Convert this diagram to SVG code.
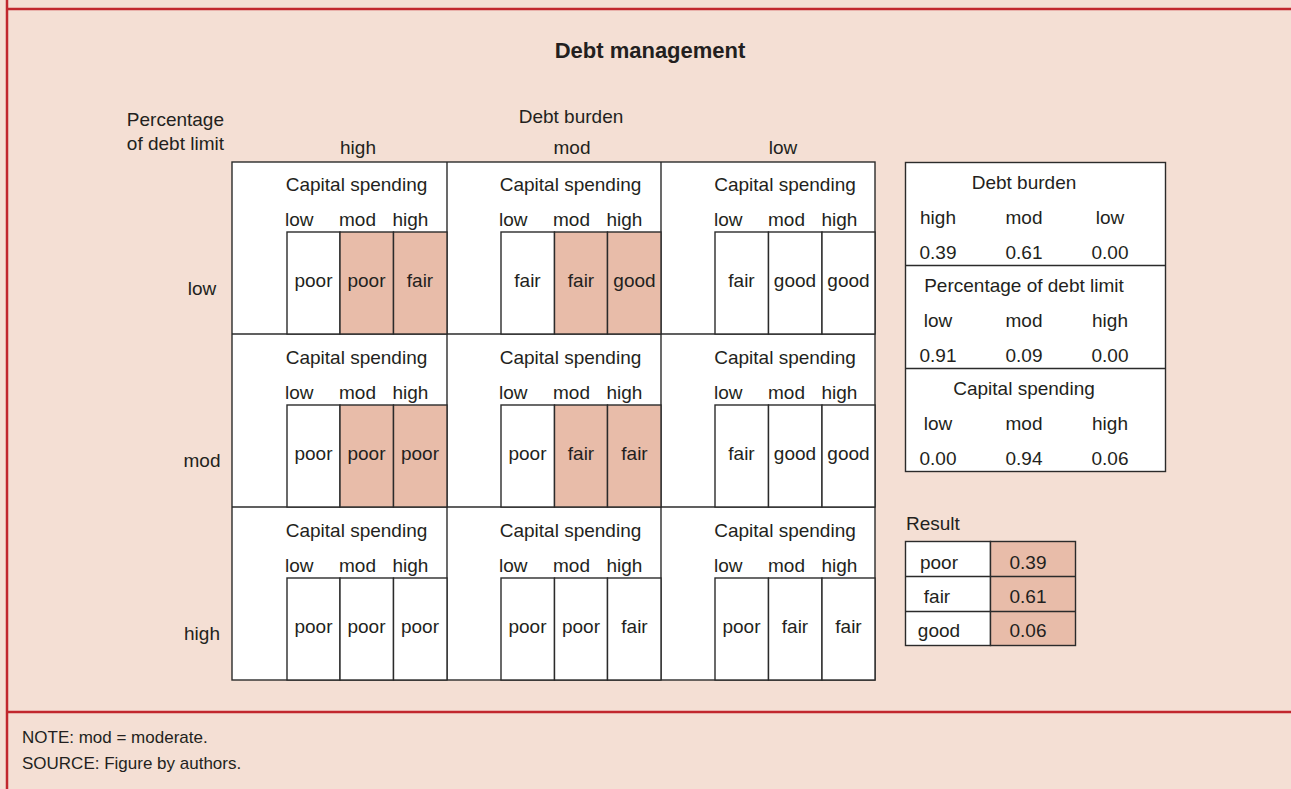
<svg xmlns="http://www.w3.org/2000/svg" width="1291" height="789" viewBox="0 0 1291 789">
<style>
text{font-family:"Liberation Sans",Arial,sans-serif;font-size:19px;fill:#231f20}
.t{font-size:22px;font-weight:bold}
.f{font-size:17px}
.m{text-anchor:middle}
.e{text-anchor:end}
.ln{stroke:#2b2b2b;stroke-width:1.4;fill:none}
.w{fill:#ffffff;stroke:#2b2b2b;stroke-width:1.4}
.s{fill:#e8bca9;stroke:#2b2b2b;stroke-width:1.4}
.red{stroke:#c1272d;stroke-width:2.5;fill:none}
</style>
<rect x="0" y="0" width="1291" height="789" fill="#f4dfd4"/>
<g id="frame">
<line class="red" x1="7" y1="9" x2="1291" y2="9"/>
<line class="red" x1="7" y1="712" x2="1291" y2="712"/>
<line class="red" x1="7" y1="0" x2="7" y2="789"/>
</g>
<g id="title"><text class="t m" x="650" y="58">Debt management</text></g>
<g id="axis-labels">
<text class="e" x="224" y="126">Percentage</text>
<text class="e" x="224" y="150">of debt limit</text>
<text class="m" x="571" y="123">Debt burden</text>
<text class="m" x="358" y="154">high</text>
<text class="m" x="572" y="154">mod</text>
<text class="m" x="783" y="154">low</text>
<text class="m" x="202" y="295">low</text>
<text class="m" x="202" y="467">mod</text>
<text class="m" x="202" y="640">high</text>
</g>
<g id="grid">
<rect class="w" x="232" y="162" width="643" height="518"/>
<line class="ln" x1="447" y1="162" x2="447" y2="680"/>
<line class="ln" x1="661" y1="162" x2="661" y2="680"/>
<line class="ln" x1="232" y1="334" x2="875" y2="334"/>
<line class="ln" x1="232" y1="507" x2="875" y2="507"/>
</g>
<!-- Row 1 -->
<g id="cell-r1-c1">
<text class="m" x="356.5" y="191">Capital spending</text>
<text x="285" y="226">low</text><text x="339" y="226">mod</text><text x="392.5" y="226">high</text>
<rect class="w" x="287" y="232" width="53" height="102"/><rect class="s" x="340" y="232" width="53.5" height="102"/><rect class="s" x="393.5" y="232" width="53.5" height="102"/>
<text class="m" x="313.5" y="287">poor</text><text class="m" x="366.5" y="287">poor</text><text class="m" x="420" y="287">fair</text>
</g>
<g id="cell-r1-c2">
<text class="m" x="570.5" y="191">Capital spending</text>
<text x="499" y="226">low</text><text x="553" y="226">mod</text><text x="606.5" y="226">high</text>
<rect class="w" x="501" y="232" width="53.5" height="102"/><rect class="s" x="554.5" y="232" width="53" height="102"/><rect class="s" x="607.5" y="232" width="53.5" height="102"/>
<text class="m" x="527.5" y="287">fair</text><text class="m" x="581" y="287">fair</text><text class="m" x="634.5" y="287">good</text>
</g>
<g id="cell-r1-c3">
<text class="m" x="785" y="191">Capital spending</text>
<text x="714" y="226">low</text><text x="768" y="226">mod</text><text x="821.5" y="226">high</text>
<rect class="w" x="715" y="232" width="53.5" height="102"/><rect class="w" x="768.5" y="232" width="53.5" height="102"/><rect class="w" x="822" y="232" width="53" height="102"/>
<text class="m" x="741.5" y="287">fair</text><text class="m" x="795" y="287">good</text><text class="m" x="848.5" y="287">good</text>
</g>
<!-- Row 2 -->
<g id="cell-r2-c1">
<text class="m" x="356.5" y="364">Capital spending</text>
<text x="285" y="399">low</text><text x="339" y="399">mod</text><text x="392.5" y="399">high</text>
<rect class="w" x="287" y="405" width="53" height="102"/><rect class="s" x="340" y="405" width="53.5" height="102"/><rect class="s" x="393.5" y="405" width="53.5" height="102"/>
<text class="m" x="313.5" y="460">poor</text><text class="m" x="366.5" y="460">poor</text><text class="m" x="420" y="460">poor</text>
</g>
<g id="cell-r2-c2">
<text class="m" x="570.5" y="364">Capital spending</text>
<text x="499" y="399">low</text><text x="553" y="399">mod</text><text x="606.5" y="399">high</text>
<rect class="w" x="501" y="405" width="53.5" height="102"/><rect class="s" x="554.5" y="405" width="53" height="102"/><rect class="s" x="607.5" y="405" width="53.5" height="102"/>
<text class="m" x="527.5" y="460">poor</text><text class="m" x="581" y="460">fair</text><text class="m" x="634.5" y="460">fair</text>
</g>
<g id="cell-r2-c3">
<text class="m" x="785" y="364">Capital spending</text>
<text x="714" y="399">low</text><text x="768" y="399">mod</text><text x="821.5" y="399">high</text>
<rect class="w" x="715" y="405" width="53.5" height="102"/><rect class="w" x="768.5" y="405" width="53.5" height="102"/><rect class="w" x="822" y="405" width="53" height="102"/>
<text class="m" x="741.5" y="460">fair</text><text class="m" x="795" y="460">good</text><text class="m" x="848.5" y="460">good</text>
</g>
<!-- Row 3 -->
<g id="cell-r3-c1">
<text class="m" x="356.5" y="537">Capital spending</text>
<text x="285" y="572">low</text><text x="339" y="572">mod</text><text x="392.5" y="572">high</text>
<rect class="w" x="287" y="578" width="53" height="102"/><rect class="w" x="340" y="578" width="53.5" height="102"/><rect class="w" x="393.5" y="578" width="53.5" height="102"/>
<text class="m" x="313.5" y="633">poor</text><text class="m" x="366.5" y="633">poor</text><text class="m" x="420" y="633">poor</text>
</g>
<g id="cell-r3-c2">
<text class="m" x="570.5" y="537">Capital spending</text>
<text x="499" y="572">low</text><text x="553" y="572">mod</text><text x="606.5" y="572">high</text>
<rect class="w" x="501" y="578" width="53.5" height="102"/><rect class="w" x="554.5" y="578" width="53" height="102"/><rect class="w" x="607.5" y="578" width="53.5" height="102"/>
<text class="m" x="527.5" y="633">poor</text><text class="m" x="581" y="633">poor</text><text class="m" x="634.5" y="633">fair</text>
</g>
<g id="cell-r3-c3">
<text class="m" x="785" y="537">Capital spending</text>
<text x="714" y="572">low</text><text x="768" y="572">mod</text><text x="821.5" y="572">high</text>
<rect class="w" x="715" y="578" width="53.5" height="102"/><rect class="w" x="768.5" y="578" width="53.5" height="102"/><rect class="w" x="822" y="578" width="53" height="102"/>
<text class="m" x="741.5" y="633">poor</text><text class="m" x="795" y="633">fair</text><text class="m" x="848.5" y="633">fair</text>
</g>
<g id="evidence-table">
<rect class="w" x="905.5" y="162.5" width="260" height="309"/>
<line class="ln" x1="905.5" y1="265.5" x2="1165.5" y2="265.5"/>
<line class="ln" x1="905.5" y1="368.5" x2="1165.5" y2="368.5"/>
<text class="m" x="1024" y="189">Debt burden</text>
<text class="m" x="938" y="224">high</text><text class="m" x="1024" y="224">mod</text><text class="m" x="1110" y="224">low</text>
<text class="m" x="938" y="259">0.39</text><text class="m" x="1024" y="259">0.61</text><text class="m" x="1110" y="259">0.00</text>
<text class="m" x="1024" y="292">Percentage of debt limit</text>
<text class="m" x="938" y="327">low</text><text class="m" x="1024" y="327">mod</text><text class="m" x="1110" y="327">high</text>
<text class="m" x="938" y="362">0.91</text><text class="m" x="1024" y="362">0.09</text><text class="m" x="1110" y="362">0.00</text>
<text class="m" x="1024" y="395">Capital spending</text>
<text class="m" x="938" y="430">low</text><text class="m" x="1024" y="430">mod</text><text class="m" x="1110" y="430">high</text>
<text class="m" x="938" y="465">0.00</text><text class="m" x="1024" y="465">0.94</text><text class="m" x="1110" y="465">0.06</text>
</g>
<g id="result-table">
<text x="906" y="530">Result</text>
<rect class="w" x="905.5" y="541.5" width="85" height="104"/>
<rect class="s" x="990.5" y="541.5" width="85" height="104"/>
<line class="ln" x1="905.5" y1="576.5" x2="1075.5" y2="576.5"/>
<line class="ln" x1="905.5" y1="611.5" x2="1075.5" y2="611.5"/>
<text class="m" x="939" y="569">poor</text><text class="m" x="1028" y="569">0.39</text>
<text class="m" x="937" y="603">fair</text><text class="m" x="1028" y="603">0.61</text>
<text class="m" x="939" y="637">good</text><text class="m" x="1028" y="637">0.06</text>
</g>
<g id="footer">
<text class="f" x="22" y="743">NOTE: mod = moderate.</text>
<text class="f" x="22" y="769">SOURCE: Figure by authors.</text>
</g>
</svg>
